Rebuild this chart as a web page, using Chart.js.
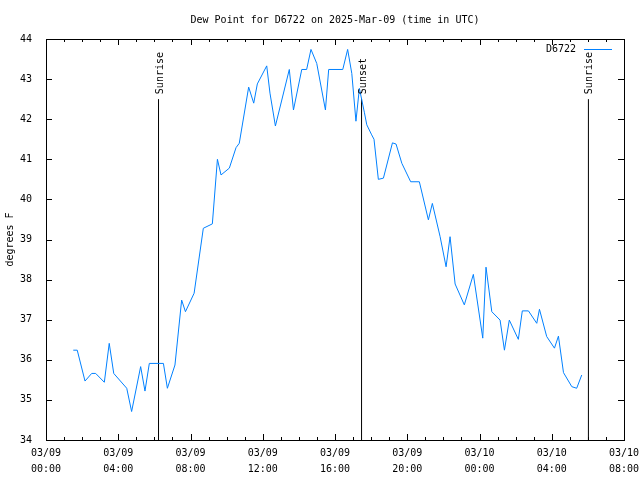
<!DOCTYPE html>
<html lang="en">
  <head>
    <title>Dew Point D6722</title>
    <meta charset="utf-8">
    <script type="text/javascript" src="https://cdn.jsdelivr.net/npm/chart.js@4.4.1/dist/chart.umd.min.js"></script>
    <style>
      body { margin: 0; background: #ffffff; }
      #chart_dp { display: block; }
    </style>
  </head>
  <body>
    <canvas id="chart_dp" width="640" height="480"></canvas>

    <script language="javascript" type="text/javascript">

      // Hours after 03/09 00:00 UTC, and dew point in degrees F
      hours = [1.51, 1.73, 2.16, 2.53, 2.75, 3.23, 3.50, 3.75, 4.47, 4.74,
               5.24, 5.48, 5.72, 6.50, 6.72, 7.14, 7.51, 7.72, 8.20, 8.71,
               9.21, 9.49, 9.69, 10.15, 10.52, 10.70, 11.22, 11.50, 11.70, 12.22,
               12.40, 12.70, 13.47, 13.70, 14.16, 14.43, 14.67, 14.99, 15.47, 15.65,
               16.43, 16.70, 16.93, 17.16, 17.35, 17.63, 17.76, 18.03, 18.16, 18.40,
               18.68, 19.18, 19.38, 19.70, 20.19, 20.67, 21.17, 21.39, 21.82, 22.15,
               22.37, 22.65, 23.16, 23.66, 24.18, 24.36, 24.68, 25.14, 25.38, 25.65,
               26.15, 26.37, 26.71, 27.17, 27.32, 27.72, 28.15, 28.37, 28.65, 29.11,
               29.38, 29.66];
      dewpoint = [36.24, 36.24, 35.47, 35.66, 35.66, 35.44, 36.41, 35.66, 35.29, 34.71,
                  35.83, 35.22, 35.91, 35.91, 35.29, 35.87, 37.49, 37.20, 37.66, 39.28,
                  39.39, 41.00, 40.61, 40.78, 41.29, 41.40, 42.80, 42.40, 42.88, 43.33,
                  42.65, 41.83, 43.24, 42.23, 43.24, 43.24, 43.74, 43.39, 42.23, 43.24,
                  43.24, 43.74, 43.14, 41.95, 42.77, 42.16, 41.86, 41.61, 41.50, 40.50,
                  40.53, 41.41, 41.38, 40.90, 40.44, 40.44, 39.49, 39.90, 39.07, 38.32,
                  39.07, 37.89, 37.37, 38.13, 36.54, 38.31, 37.20, 36.99, 36.24, 36.99,
                  36.51, 37.22, 37.22, 36.91, 37.26, 36.58, 36.29, 36.59, 35.68, 35.33,
                  35.29, 35.62];

      // Sunrise / sunset markers
      event_hours = [6.23, 17.47, 30.03];
      event_names = ["Sunrise", "Sunset", "Sunrise"];
      event_top = 42.5;

      // Tick labels, one every 4 hours
      tick_dates = ["03/09", "03/09", "03/09", "03/09", "03/09", "03/09", "03/10", "03/10", "03/10"];
      tick_times = ["00:00", "04:00", "08:00", "12:00", "16:00", "20:00", "00:00", "04:00", "08:00"];

      station = "D6722";
      line_colour = "#0080ff";
      mono = "'DejaVu Sans Mono', monospace";

      datasets = [{
        // dataset[0] is the dew point trace
        data: hours.map((h, i) => ({x: h, y: dewpoint[i]})),
        borderColor: line_colour,
        borderWidth: 1,
        pointRadius: 0,
        tension: 0
      }];
      for (let i = 0; i < event_hours.length; i++) {
        datasets.push({
          data: [{x: event_hours[i], y: 34}, {x: event_hours[i], y: event_top}],
          borderColor: "#000000",
          borderWidth: 1,
          pointRadius: 0
        });
      }

      // Border, inward gnuplot style ticks, event labels and key
      gnuplotDecor = {
        id: "gnuplotDecor",
        afterDatasetsDraw(chart) {
          const ctx = chart.ctx;
          const a = chart.chartArea;
          const xs = chart.scales.x;
          const ys = chart.scales.y;
          ctx.save();
          ctx.strokeStyle = "#000000";
          ctx.lineWidth = 1;
          ctx.strokeRect(Math.round(a.left) + 0.5, Math.round(a.top) + 0.5,
                         Math.round(a.right - a.left), Math.round(a.bottom - a.top));
          ctx.beginPath();
          for (let h = 0; h <= 32; h++) {
            const len = (h % 4 == 0) ? 6 : 3;
            const px = Math.round(xs.getPixelForValue(h)) + 0.5;
            ctx.moveTo(px, a.bottom); ctx.lineTo(px, a.bottom - len);
            ctx.moveTo(px, a.top); ctx.lineTo(px, a.top + len);
          }
          for (let v = 34; v <= 44; v++) {
            const py = Math.round(ys.getPixelForValue(v)) + 0.5;
            ctx.moveTo(a.left, py); ctx.lineTo(a.left + 6, py);
            ctx.moveTo(a.right, py); ctx.lineTo(a.right - 6, py);
          }
          ctx.stroke();

          ctx.fillStyle = "#000000";
          ctx.font = "10px " + mono;
          ctx.textAlign = "left";
          ctx.textBaseline = "middle";
          for (let i = 0; i < event_hours.length; i++) {
            ctx.save();
            ctx.translate(Math.round(xs.getPixelForValue(event_hours[i])) + 1, ys.getPixelForValue(event_top) - 5);
            ctx.rotate(-Math.PI / 2);
            ctx.fillText(event_names[i], 0, 0);
            ctx.restore();
          }

          ctx.textAlign = "right";
          ctx.fillText(station, a.right - 48, a.top + 10);
          ctx.strokeStyle = line_colour;
          ctx.beginPath();
          ctx.moveTo(a.right - 40, a.top + 10.5);
          ctx.lineTo(a.right - 12, a.top + 10.5);
          ctx.stroke();
          ctx.restore();
        }
      };

      chart_dp = new Chart("chart_dp", {
        type: "line",
        data: { datasets: datasets },
        plugins: [gnuplotDecor],
        options: {
          responsive: false,
          animation: false,
          layout: { padding: { left: 0, right: 16, top: 0, bottom: 0 } },
          plugins: {
            legend: { display: false },
            tooltip: { enabled: false },
            title: {
              display: true,
              fullSize: false,
              text: "Dew Point for " + station + " on 2025-Mar-09 (time in UTC)",
              color: "#000000",
              font: { family: mono, size: 10, weight: "normal", lineHeight: 1.2 },
              padding: { top: 14, bottom: 13 }
            }
          },
          scales: {
            x: {
              type: "linear",
              min: 0,
              max: 32,
              grid: { display: false },
              border: { display: false },
              afterFit(scale) {
                scale.height = 40;
                scale.paddingLeft = 0;
                scale.paddingRight = 0;
              },
              ticks: {
                stepSize: 4,
                autoSkip: false,
                maxRotation: 0,
                padding: -3,
                color: "#000000",
                font: { family: mono, size: 10, lineHeight: 1.6 },
                callback: (v) => [tick_dates[v / 4], tick_times[v / 4]]
              }
            },
            y: {
              min: 34,
              max: 44,
              grid: { display: false },
              border: { display: false },
              afterFit(scale) { scale.width = 46; },
              title: {
                display: true,
                text: "degrees F",
                color: "#000000",
                font: { family: mono, size: 10, lineHeight: 1.2 },
                padding: { top: 4, bottom: 0 }
              },
              ticks: {
                stepSize: 1,
                padding: 6,
                color: "#000000",
                font: { family: mono, size: 10 }
              }
            }
          }
        }
      });
    </script>
  </body>
</html>
